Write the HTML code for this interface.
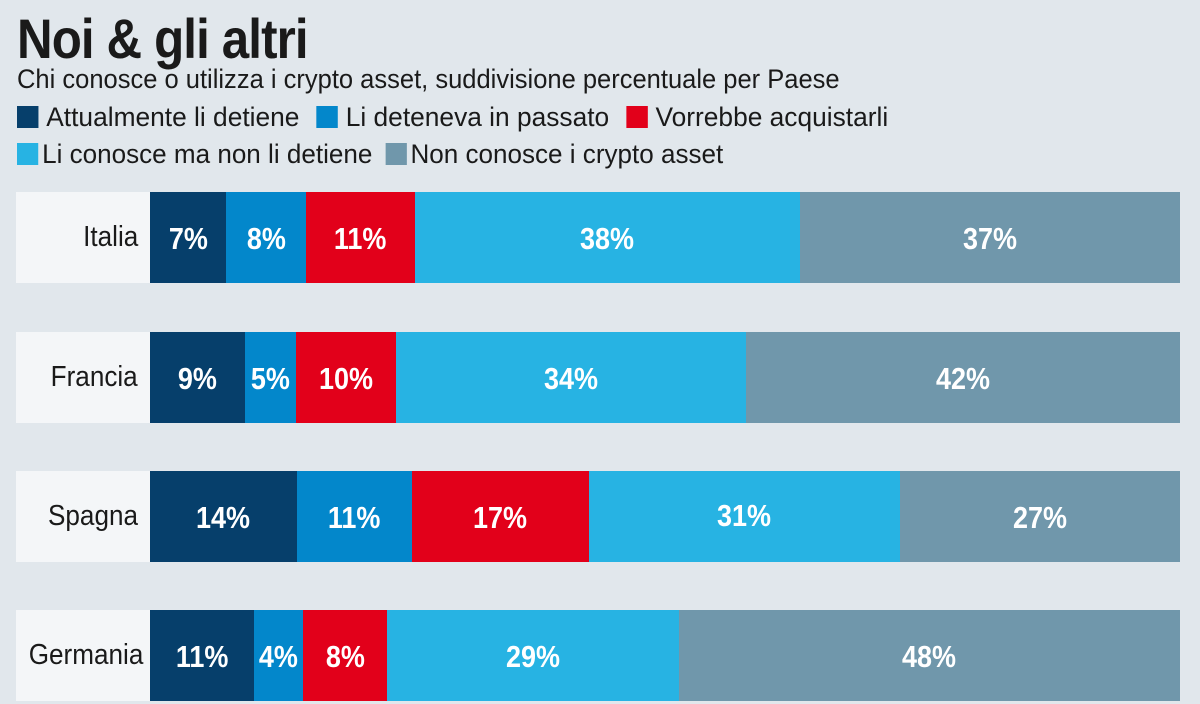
<!DOCTYPE html>
<html><head><meta charset="utf-8"><style>
body{margin:0;width:1200px;height:675px;background:#e1e7ec;overflow:hidden;position:relative;font-family:"Liberation Sans",sans-serif;color:#1a1a1a}
.t{position:absolute;left:17px;top:6px;font-size:56px;font-weight:bold;letter-spacing:-1px;transform:scaleX(0.88);transform-origin:left top;white-space:nowrap}
.s{position:absolute;left:17px;top:64px;font-size:27px;transform:scaleX(0.945);transform-origin:left top;white-space:nowrap}
.lg{position:absolute;font-size:27px;white-space:nowrap;transform-origin:left top}
.sq{display:inline-block;width:22px;height:22px;vertical-align:-2px;margin-right:8px}
.row{position:absolute;left:16px;height:91px}
.lab{position:absolute;left:0;top:0;width:134px;height:100%;background:#f4f6f8;text-align:right;box-sizing:border-box;padding-right:12px;font-size:29px;line-height:91px;white-space:nowrap}
.lab span{display:inline-block;transform:scaleX(0.9);transform-origin:right center}
.seg{position:absolute;top:0;height:100%;color:#fff;font-weight:bold;font-size:31px;text-align:center;line-height:94px}
.seg span{display:inline-block;transform:scaleX(0.87)}
</style></head><body>
<div class="t">Noi &amp; gli altri</div>
<div class="s">Chi conosce o utilizza i crypto asset, suddivisione percentuale per Paese</div>
<div class="lg" style="left:17px;top:102px;transform:scaleX(0.975)"><span class="sq" style="background:#063f6b"></span>Attualmente li detiene <span class="sq" style="background:#0387cb;margin-left:10px"></span>Li deteneva in passato <span class="sq" style="background:#e2001a;margin-left:10px"></span>Vorrebbe acquistarli</div>
<div class="lg" style="left:17px;top:139px;transform:scaleX(0.965)"><span class="sq" style="background:#27b3e3;margin-right:4px"></span>Li conosce ma non li detiene <span class="sq" style="background:#7097ab;margin-left:6px;margin-right:4px"></span>Non conosce i crypto asset</div>

<div class="row" style="top:192px;width:1164px"><div class="lab"><span>Italia</span></div>
<div class="seg" style="left:134px;width:76px;background:#063f6b"><span>7%</span></div>
<div class="seg" style="left:210px;width:80px;background:#0387cb"><span>8%</span></div>
<div class="seg" style="left:290px;width:109px;background:#e2001a"><span>11%</span></div>
<div class="seg" style="left:399px;width:385px;background:#27b3e3"><span>38%</span></div>
<div class="seg" style="left:784px;width:380px;background:#7097ab"><span>37%</span></div></div>

<div class="row" style="top:332px;width:1164px"><div class="lab"><span>Francia</span></div>
<div class="seg" style="left:134px;width:95px;background:#063f6b"><span>9%</span></div>
<div class="seg" style="left:229px;width:51px;background:#0387cb"><span>5%</span></div>
<div class="seg" style="left:280px;width:100px;background:#e2001a"><span>10%</span></div>
<div class="seg" style="left:380px;width:350px;background:#27b3e3"><span>34%</span></div>
<div class="seg" style="left:730px;width:434px;background:#7097ab"><span>42%</span></div></div>

<div class="row" style="top:471px;width:1164px"><div class="lab"><span>Spagna</span></div>
<div class="seg" style="left:134px;width:147px;background:#063f6b"><span>14%</span></div>
<div class="seg" style="left:281px;width:115px;background:#0387cb"><span>11%</span></div>
<div class="seg" style="left:396px;width:177px;background:#e2001a"><span>17%</span></div>
<div class="seg" style="left:573px;width:311px;background:#27b3e3;line-height:90px"><span>31%</span></div>
<div class="seg" style="left:884px;width:280px;background:#7097ab"><span>27%</span></div></div>

<div class="row" style="top:610px;width:1164px"><div class="lab"><span>Germania</span></div>
<div class="seg" style="left:134px;width:104px;background:#063f6b"><span>11%</span></div>
<div class="seg" style="left:238px;width:49px;background:#0387cb"><span>4%</span></div>
<div class="seg" style="left:287px;width:84px;background:#e2001a"><span>8%</span></div>
<div class="seg" style="left:371px;width:292px;background:#27b3e3"><span>29%</span></div>
<div class="seg" style="left:663px;width:501px;background:#7097ab"><span>48%</span></div></div>
</body></html>
